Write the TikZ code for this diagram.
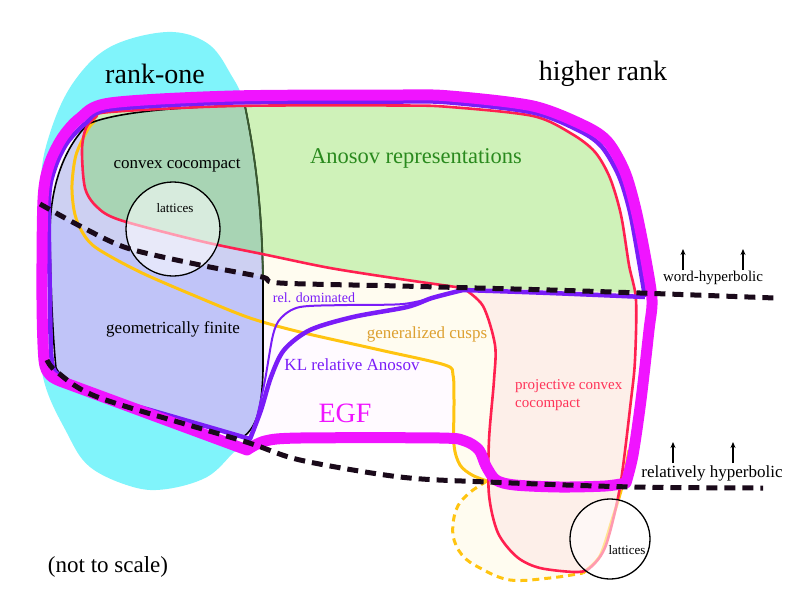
\documentclass[tikz,border=0pt]{standalone}
\usepackage{fontspec}
\setmainfont{Liberation Serif}
\usepackage{tikz}
\usetikzlibrary{arrows.meta}
\usepackage{xcolor}

\definecolor{rankcyan}{HTML}{80F4FB}
\definecolor{egfmag}{HTML}{F014FF}
\definecolor{egffill}{HTML}{FFFAFF}
\definecolor{klpurple}{HTML}{7A1CF8}
\definecolor{anosovred}{HTML}{FF2050}
\definecolor{pcctext}{HTML}{FF3358}
\definecolor{cuspyellow}{HTML}{FFC410}
\definecolor{cusptext}{HTML}{DDA030}
\definecolor{cuspfill}{HTML}{FFFCF0}
\definecolor{anosovgreen}{HTML}{CFF2B9}
\definecolor{anosovtext}{HTML}{2A8A1E}
\definecolor{ccgreen}{HTML}{A8D4B4}
\definecolor{gfblue}{HTML}{C0C4F8}
\definecolor{gflight}{HTML}{CDD0F2}
\definecolor{gfedge}{HTML}{3A5A30}
\definecolor{pccpink}{HTML}{FDEFE9}
\definecolor{hypdash}{HTML}{1A0A1A}

% outlines of the classes (pixel units, y downwards)
\newcommand{\egfloop}{plot[smooth,tension=0.5] coordinates {(247,450) (265,441) (300,438) (440,438) (465,441) (479,450) (486,466) (496,480) (515,485) (560,487) (605,486) (626,483)}
  -- plot[smooth,tension=0.5] coordinates {(626,483) (633,455) (641,400) (649,330) (652,300) (646,260) (636,210) (625,172) (608,142) (585,126) (533,106) (450,96) (400,95) (233,96) (110,103) (80,118) (62,138) (49,165) (43,200) (42,300) (44,360) (50,375) (60,381)} -- cycle}
\newcommand{\klloop}{plot[smooth,tension=0.5] coordinates {(645,297) (550,293) (463,290)}
  -- plot[smooth,tension=0.5] coordinates {(463,290) (432,298) (407,307) (353,317) (310,330) (284,350) (271,377) (261,410) (250,439)}
  -- plot[smooth,tension=0.5] coordinates {(250,439) (150,410) (100,396) (62,377) (52,362) (50,300) (49,200) (55,168) (67,143) (86,123) (110,109.5) (233,102.5) (400,101.5) (450,102.5) (533,112.5) (580,131) (602,147) (619,176) (630,212) (639,261) (645,297)}}
\newcommand{\redloop}{plot[smooth,tension=0.5] coordinates {(463,288) (400,279) (330,268) (267,255) (200,241) (120,220) (97,207) (85,188) (82,150) (86,128) (96,117) (110,112) (233,106) (400,105.5) (450,107) (533,116) (572,134) (595,152) (610,178) (621,215) (629,265) (636,300) (635,360) (631,400) (620,487) (606,545) (592,566) (578,572) (540,568) (517,557) (498,533) (489,495) (489,440) (494,380) (495,345) (483,306) (463,288)} -- cycle}
\newcommand{\gfloop}{(88,124) .. controls (120,110) and (200,106) .. (245,106) .. controls (256,160) and (262,210) .. (263,280) -- (263,370) .. controls (262,410) and (256,428) .. (243,437) -- (100,395) .. controls (80,389) and (62,380) .. (56,368) .. controls (52,330) and (50,260) .. (50,233) .. controls (50,190) and (62,150) .. (88,124) -- cycle}
\newcommand{\cuspleft}{plot[smooth,tension=0.5] coordinates {(96,120) (88,129) (76,155) (72,185) (74,210) (80,228) (95,247) (140,272) (200,298) (250,318) (300,332) (380,350) (445,365) (453,375) (454,400) (454,445) (460,465) (472,475) (487,481)}}
\newcommand{\cuspdash}{plot[smooth,tension=0.6] coordinates {(487,481) (468,494) (456,510) (453,535) (462,555) (480,568) (510,580) (550,578) (583,573)}}
\newcommand{\cuspright}{plot[smooth,tension=0.5] coordinates {(583,573) (600,556) (612,520) (622,487) (629,450)}}
\newcommand{\wordline}{plot[smooth,tension=0.5] coordinates {(40,204) (80,226) (127,248) (200,265) (262,277) (280,283) (400,286) (550,290) (640,293) (775,298)}}
\newcommand{\relline}{plot[smooth,tension=0.5] coordinates {(47,360) (57,372) (100,398) (243,441) (300,460) (400,477) (487,482) (633,487) (763,488)}}

\begin{document}
\begin{tikzpicture}[x=1pt,y=-1pt,
    hyp/.style={hypdash, line width=5pt, dash pattern=on 11pt off 7pt},
    up/.style={-{Stealth[length=6pt,width=5pt]}, line width=1.2pt},
    lbl/.style={inner sep=0pt, anchor=base}]
\useasboundingbox (0,0) rectangle (800,600);

% rank-one blob behind everything
\fill[rankcyan] plot[smooth cycle, tension=0.6] coordinates {(167,32) (207,43) (230,73) (245,110) (252,200) (255,330) (245,440) (233,453) (207,477) (167,489) (133,487) (90,467) (67,433) (43,377) (38,300) (40,187) (50,133) (73,83) (110,47)};

% fills
\fill[egffill] \egfloop;
\fill[cuspfill] \cuspleft
  -- plot[smooth,tension=0.6] coordinates {(487,481) (468,494) (456,510) (453,535) (462,555) (480,568) (510,580) (550,578) (583,573)}
  -- plot[smooth,tension=0.5] coordinates {(583,573) (600,556) (612,520) (622,487) (629,450)}
  -- (636,300) -- (629,265) -- (572,134) -- (233,106) -- cycle;
\fill[pccpink] \redloop;
\begin{scope}
  \clip \redloop;
  \fill[anosovgreen] \wordline -- (800,0) -- (0,0) -- cycle;
\end{scope}
\fill[gfblue] \gfloop;
\begin{scope}
  \clip \gfloop;
  \fill[gflight] \wordline -- (800,0) -- (0,0) -- cycle;
\end{scope}
\begin{scope}
  \clip \redloop;
  \fill[ccgreen] \gfloop;
\end{scope}

% boundary lines
\draw[cuspyellow, line width=3pt] \cuspleft;
\draw[cuspyellow, line width=3pt] \cuspright;
\draw[cuspyellow, line width=3pt, dash pattern=on 7pt off 5pt] \cuspdash;
\draw[black, line width=1.6pt] \gfloop;
\draw[gfedge, line width=1.8pt] (245,106) .. controls (256,160) and (262,210) .. (263,280);
\draw[anosovred, line width=2.6pt] \redloop;

% lattices
\fill[white, opacity=0.55] (173,229) circle[radius=47pt];
\draw[black, line width=1.3pt] (173,229) circle[radius=47pt];
\fill[white, opacity=0.55] (610,539) circle[radius=40pt];
\draw[black, line width=1.3pt] (610,539) circle[radius=40pt];

% relative Anosov and EGF
\draw[klpurple, line width=2pt] plot[smooth,tension=0.5] coordinates {(440,296) (403,304) (347,305) (300,307) (281,318) (273,335) (265,380) (257,417) (251,437)};
\draw[klpurple, line width=4.5pt, line join=round] \klloop;
\draw[egfmag, line width=11pt, line join=round] \egfloop;

% hyperbolicity lines
\draw[hyp] \wordline;
\draw[hyp] \relline;

% labels
\node[lbl, font=\fontsize{28}{30}\selectfont] (rankone) at (155,83) {rank-one};
\node[lbl, font=\fontsize{28}{30}\selectfont] (higherrank) at (603,80) {higher rank};
\node[lbl, font=\fontsize{17}{19}\selectfont] (convcc) at (177,168) {convex cocompact};
\node[lbl, font=\fontsize{22.5}{24}\selectfont, text=anosovtext] (anosov) at (416,163) {Anosov representations};
\node[lbl, font=\fontsize{13}{15}\selectfont] (latticesa) at (175,212) {lattices};
\node[lbl, font=\fontsize{15}{17}\selectfont] (wordhyp) at (713,281) {word-hyperbolic};
\node[lbl, font=\fontsize{14}{16}\selectfont, text=klpurple] (reldom) at (314,302) {rel. dominated};
\node[lbl, font=\fontsize{17}{19}\selectfont, text=cusptext] (gencusps) at (427,338) {generalized cusps};
\node[lbl, font=\fontsize{17}{19}\selectfont] (geomfin) at (173,333) {geometrically finite};
\node[lbl, font=\fontsize{17}{19}\selectfont, text=klpurple] (klrel) at (352,370) {KL relative Anosov};
\node[lbl, font=\fontsize{28}{30}\selectfont, text=egfmag] (egf) at (345,422) {EGF};
\node[lbl, anchor=base west, font=\fontsize{15}{18}\selectfont, text=pcctext, align=left] (pcc) at (515,407) {projective convex\\cocompact};
\node[lbl, font=\fontsize{17}{19}\selectfont] (relhyp) at (712,477) {relatively hyperbolic};
\node[lbl, font=\fontsize{13}{15}\selectfont] (latticesb) at (627,554) {lattices};
\node[lbl, font=\fontsize{23}{25}\selectfont] (scale) at (108,572) {(not to scale)};

% arrows pointing upwards
\coordinate (wha) at (683,270);
\coordinate (whb) at (743,270);
\coordinate (rha) at (673,463);
\coordinate (rhb) at (733,463);
\draw[up] (wha) -- ++(0,-21);
\draw[up] (whb) -- ++(0,-21);
\draw[up] (rha) -- ++(0,-21);
\draw[up] (rhb) -- ++(0,-21);
\end{tikzpicture}
\end{document}
